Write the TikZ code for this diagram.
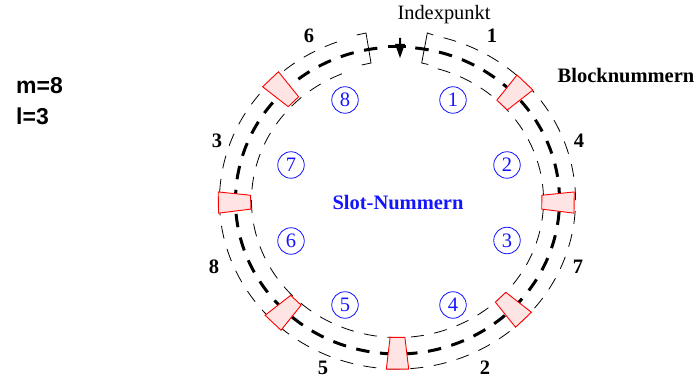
\documentclass[tikz,border=0pt]{standalone}
\usepackage{fontspec}
\setmainfont{Liberation Serif}
\newfontfamily\arialf{Liberation Sans}
\definecolor{boxfill}{RGB}{255,228,228}
\definecolor{slotblue}{RGB}{20,20,255}
\tikzset{
  thinring/.style={line width=0.8pt,dash pattern=on 13pt off 10.6pt},
  thickring/.style={line width=3pt,dash pattern=on 13.5pt off 10.6pt},
  slotbox/.style={draw=red,fill=boxfill,line width=0.9pt,line join=miter},
  slotnum/.style={circle,draw=slotblue,text=slotblue,line width=0.8pt,minimum size=26.5pt,inner sep=0pt,font=\fontsize{20.5}{20.5}\selectfont},
  blocknum/.style={inner sep=0pt,font=\fontsize{20.5}{20.5}\selectfont\bfseries},
  plain/.style={font=\fontsize{20.4}{20.4}\selectfont}
}
\begin{document}
\begin{tikzpicture}[x=1pt,y=-1pt]
\useasboundingbox (0,0) rectangle (695,379);
\def\cx{397.5}\def\cy{200.5}
% rings
\draw[thinring] (\cx+178*cos 75,\cy-168.5*sin 75) arc[start angle=-75,end angle=253.5,x radius=178,y radius=168.5];
\draw[thinring] (\cx+146*cos 74,\cy-137*sin 74) arc[start angle=-74,end angle=251.8,x radius=146,y radius=137];
\draw[thickring] (\cx+162*cos 83.7,\cy-153.5*sin 83.7) arc[start angle=-83.7,end angle=263,x radius=162,y radius=153.5];
% boxes
\foreach \a/\dx/\dy in {45/1.5/1.3,-0.7/-1.5/0,-45/0/0,-90/0/0,-135/1.5/3,180.7/-1/0,135/-1/-2}{
  \filldraw[slotbox]
   ({\cx+\dx+146*cos(\a+2.9)},{\cy+\dy-137*sin(\a+2.9)}) --
   ({\cx+\dx+178.5*cos(\a+3.6)},{\cy+\dy-169*sin(\a+3.6)}) --
   ({\cx+\dx+178.5*cos(\a-3.6)},{\cy+\dy-169*sin(\a-3.6)}) --
   ({\cx+\dx+146*cos(\a-2.9)},{\cy+\dy-137*sin(\a-2.9)}) -- cycle;
}
% brackets
\draw[line width=0.8pt] (433.3,35) -- (427.3,33) -- (421.7,63) -- (428.3,64.5);
\draw[line width=0.8pt] (356.7,35) -- (366,33) -- (371,63) -- (361.7,65);
% index mark
\draw[line width=3pt] (388,47) -- (406,47);
\fill (399,38) -- (401,38) -- (401,44) -- (405,44) -- (400,58) -- (395,44) -- (399,44) -- cycle;
% slots
\node[slotnum] (s1) at (453,100) {1};
\node[slotnum] (s2) at (507,165) {2};
\node[slotnum] (s3) at (507,240.5) {3};
\node[slotnum] (s4) at (453,305) {4};
\node[slotnum] (s5) at (345,305) {5};
\node[slotnum] (s6) at (291,241) {6};
\node[slotnum] (s7) at (291,165) {7};
\node[slotnum] (s8) at (345,100) {8};
% block numbers
\node[blocknum] (b1) at (492,36) {1};
\node[blocknum] (b6) at (309,36) {6};
\node[blocknum] (b3) at (217,141) {3};
\node[blocknum] (b4) at (579,141) {4};
\node[blocknum] (b8) at (214,267) {8};
\node[blocknum] (b7) at (578,267) {7};
\node[blocknum] (b5) at (323,367.5) {5};
\node[blocknum] (b2) at (485,367.5) {2};
% labels
\node[plain,inner sep=0pt] (ip) at (444,15) {Indexpunkt};
\node[blocknum,inner sep=0pt] (bn) at (626,76) {Blocknummern};
\node[blocknum,text=slotblue,inner sep=0pt] (sn) at (398,203) {Slot-Nummern};
\node[anchor=west,inner sep=0pt,font=\fontsize{23}{23}\selectfont\arialf\bfseries] (m) at (16,86) {m=8};
\node[anchor=west,inner sep=0pt,font=\fontsize{23}{23}\selectfont\arialf\bfseries] (l) at (16,116) {l=3};
\end{tikzpicture}
\end{document}
